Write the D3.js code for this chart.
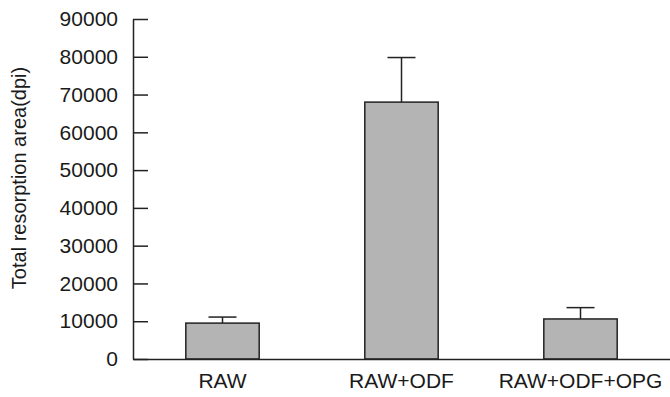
<!DOCTYPE html>
<html>
<head>
<meta charset="utf-8">
<script src="https://cdn.jsdelivr.net/npm/d3@7"></script>
<style>
  body { margin: 0; background: #fff; }
  text { font-family: Arial, 'Liberation Sans', Helvetica, sans-serif; fill: #1a1a1a; }
</style>
</head>
<body>
<script>
let groups = ['RAW', 'RAW+ODF', 'RAW+ODF+OPG']
let means = [9500, 68000, 10600]
let errors = [1600, 11800, 3000]
let yTicks = [0, 10000, 20000, 30000, 40000, 50000, 60000, 70000, 80000, 90000]
let yTitle = 'Total resorption area(dpi)'

let width = 670
let height = 397
let plotLeft = 133
let plotRight = 670
let plotTop = 19
let plotBottom = 359
let ink = '#222'

let svg = d3.select('body')
  .append('svg')
  .attr('width', width)
  .attr('height', height)

let scaleX = d3.scaleBand()
  .domain(groups)
  .range([plotLeft, plotRight])
  .paddingInner(0.59)
  .paddingOuter(0.295)

let scaleY = d3.scaleLinear()
  .domain([0, 90000])
  .range([plotBottom, plotTop])

// bars
svg.selectAll('rect.bar')
  .data(means)
  .enter()
  .append('rect')
  .attr('class', 'bar')
  .attr('x', (d, i) => scaleX(groups[i]))
  .attr('y', d => scaleY(d))
  .attr('width', scaleX.bandwidth())
  .attr('height', d => plotBottom - scaleY(d))
  .attr('fill', '#b4b4b4')
  .attr('stroke', ink)
  .attr('stroke-width', 1.5)

// error bars (upper only)
let cx = i => scaleX(groups[i]) + scaleX.bandwidth() / 2
svg.selectAll('line.err')
  .data(means)
  .enter()
  .append('line')
  .attr('class', 'err')
  .attr('x1', (d, i) => cx(i))
  .attr('x2', (d, i) => cx(i))
  .attr('y1', d => scaleY(d))
  .attr('y2', (d, i) => scaleY(d + errors[i]))
  .attr('stroke', ink)
  .attr('stroke-width', 1.5)

svg.selectAll('line.cap')
  .data(means)
  .enter()
  .append('line')
  .attr('class', 'cap')
  .attr('x1', (d, i) => cx(i) - 14)
  .attr('x2', (d, i) => cx(i) + 14)
  .attr('y1', (d, i) => scaleY(d + errors[i]))
  .attr('y2', (d, i) => scaleY(d + errors[i]))
  .attr('stroke', ink)
  .attr('stroke-width', 1.5)

// y axis, ticks pointing inward
let yAxis = svg.append('g')
  .attr('transform', 'translate(' + plotLeft + ',0)')
  .call(d3.axisLeft(scaleY).tickValues(yTicks).tickFormat(d3.format('d'))
    .tickSizeInner(-15).tickSizeOuter(0).tickPadding(15))
yAxis.select('.domain').attr('stroke', ink).attr('stroke-width', 1.5)
yAxis.selectAll('.tick line').attr('stroke', ink).attr('stroke-width', 1.5)
yAxis.selectAll('.tick text').attr('font-size', 21).attr('fill', '#1a1a1a')
  .attr('font-family', 'Arial, Liberation Sans, sans-serif')

// x axis
let xAxis = svg.append('g')
  .attr('transform', 'translate(0,' + plotBottom + ')')
  .call(d3.axisBottom(scaleX).tickSize(0).tickPadding(14))
xAxis.select('.domain').attr('stroke', ink).attr('stroke-width', 1.5)
xAxis.selectAll('.tick text').attr('font-size', 21).attr('fill', '#1a1a1a')
  .attr('font-family', 'Arial, Liberation Sans, sans-serif')

// y title
svg.append('text')
  .attr('transform', 'translate(26,178) rotate(-90)')
  .attr('text-anchor', 'middle')
  .attr('font-size', 20)
  .text(yTitle)
</script>
</body>
</html>
